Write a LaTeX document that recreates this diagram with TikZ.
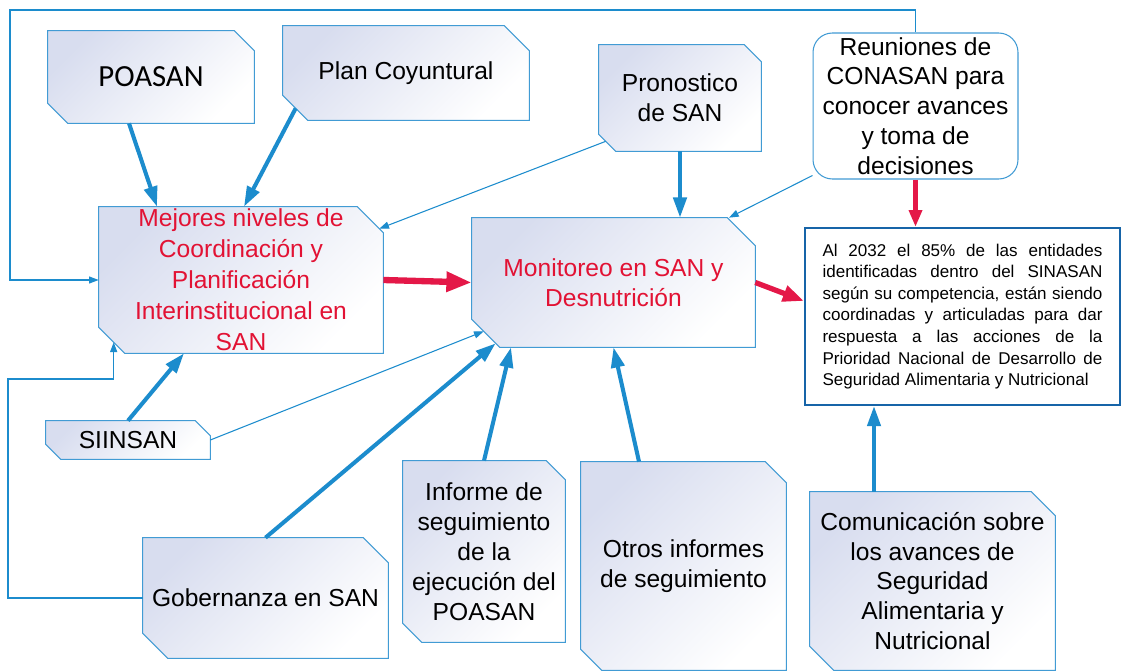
\documentclass[tikz,border=0pt]{standalone}
\usepackage{fontspec}
\setmainfont{Liberation Sans}
\newfontfamily\calibrifont{Carlito}
\usetikzlibrary{arrows.meta,calc,backgrounds}

\definecolor{boxline}{RGB}{65,155,212}
\definecolor{boxshade}{RGB}{216,221,239}
\definecolor{arrowblue}{RGB}{28,140,205}
\definecolor{arrowred}{RGB}{228,24,72}
\definecolor{textred}{RGB}{226,18,52}
\definecolor{metaline}{RGB}{22,100,168}

\tikzset{
  box/.style={rectangle, inner sep=0pt, align=center, font=\fontsize{14}{17}\selectfont},
  boxface/.style={draw=boxline, line width=0.6pt, top color=boxshade, bottom color=white, shading angle=45},
  roundbox/.style={rectangle, rounded corners=11pt, draw=boxline, line width=0.6pt, fill=white,
    inner sep=0pt, align=center, font=\fontsize{14}{17}\selectfont},
  bluearrow/.style={arrowblue, line width=2.3pt, -{Triangle[length=11.5pt,width=7.5pt]}},
  thinarrow/.style={arrowblue, line width=0.6pt, -{Triangle[length=5.5pt,width=4pt]}},
  redarrow/.style={arrowred, line width=#1, -{Triangle[length=0pt 4,width=0pt 3]}},
}

\begin{document}
\begin{tikzpicture}[x=0.02cm,y=-0.02cm]
  \useasboundingbox (0,0) rectangle (1122,672);

  % inputs on top
  \node[box, minimum width=4.12cm, minimum height=1.84cm,
    font=\calibrifont\fontsize{17.5}{20}\selectfont] (poasan) at (151,77) {POASAN};
  \node[box, minimum width=4.92cm, minimum height=1.88cm] (plan) at (406,73) {Plan Coyuntural};
  \node[box, minimum width=3.24cm, minimum height=2.12cm] (pronostico) at (680,98) {Pronostico\\de SAN};
  \node[roundbox, minimum width=4.10cm, minimum height=2.92cm] (reuniones) at (915.5,106)
    {Reuniones de\\CONASAN para\\conocer avances\\y toma de\\decisiones};

  % main boxes
  \node[box, minimum width=5.68cm, minimum height=2.92cm, text=textred,
    font=\fontsize{14}{17.6}\selectfont] (mejores) at (241,280)
    {Mejores niveles de\\Coordinación y\\Planificación\\Interinstitucional en\\SAN};
  \node[box, minimum width=5.66cm, minimum height=2.58cm, text=textred] (monitoreo) at (613.5,282.5)
    {Monitoreo en SAN y\\Desnutrición};
  \node[draw=metaline, line width=1.2pt, fill=white, inner sep=0pt, minimum width=6.3cm, minimum height=3.54cm,
    text width=5.6cm, align=justify, font=\fontsize{9.7}{12.3}\selectfont] (meta) at (962.5,316.5)
    {Al 2032 el 85\% de las entidades\linebreak identificadas dentro del SINASAN\linebreak según su competencia, están siendo\linebreak coordinadas y articuladas para dar\linebreak respuesta a las acciones de la\linebreak Prioridad Nacional de Desarrollo de\linebreak Seguridad Alimentaria y Nutricional};

  % inputs below
  \node[box, minimum width=3.28cm, minimum height=0.76cm] (siinsan) at (128,440) {SIINSAN};
  \node[box, minimum width=4.90cm, minimum height=2.40cm] (gobernanza) at (265.5,598) {Gobernanza en SAN};
  \node[box, minimum width=3.24cm, minimum height=3.62cm] (informe) at (484,551.5)
    {Informe de\\seguimiento\\de la\\ejecución del\\POASAN};
  \node[box, minimum width=4.10cm, minimum height=4.16cm] (otros) at (683.5,566)
    {Otros informes\\de seguimiento};
  \node[box, minimum width=4.90cm, minimum height=3.56cm] (comunicacion) at (932.5,581)
    {Comunicación sobre\\los avances de\\Seguridad\\Alimentaria y\\Nutricional};

  % cut-corner outlines behind the texts
  \begin{scope}[on background layer]
    \fill[white] (0,0) rectangle (1122,672);
    \foreach \name/\cut in {poasan/20, plan/25, pronostico/17, mejores/26, monitoreo/28,
        siinsan/15, gobernanza/25, informe/19, otros/21, comunicacion/24}
      \shade[boxface] (\name.north west) -- ($(\name.north east)+(-\cut,0)$)
        -- ($(\name.north east)+(0,\cut)$) -- (\name.south east)
        -- ($(\name.south west)+(\cut,0)$) -- ($(\name.south west)+(0,-\cut)$) -- cycle;
  \end{scope}

  % into the coordination box
  \draw[bluearrow] (poasan.south -| 129,0) -- (mejores.north -| 157,0);
  \draw[bluearrow] ($(plan.south west)+(13,-12)$) -- (mejores.north -| 244,0);
  \draw[bluearrow] (siinsan.north) -- (mejores.south -| 184,0);
  \draw[thinarrow] ($(pronostico.south west)+(7,-10)$) -- ($(mejores.north east)+(-4,22)$);
  \draw[thinarrow] (reuniones.north) |- (10,10) |- (mejores.west);
  \draw[thinarrow] (gobernanza.west) -| (8,379) -| ($(mejores.south west)+(15,-11)$);

  % into the monitoring box
  \draw[bluearrow] (pronostico.south) -- (pronostico.south |- monitoreo.north);
  \draw[thinarrow] (reuniones.214) -- (monitoreo.north -| 729,0);
  \draw[thinarrow] (siinsan.east) -- ($(monitoreo.south west)+(12,-16)$);
  \draw[bluearrow] (gobernanza.north) -- ($(monitoreo.south west)+(24,-4)$);
  \draw[bluearrow] (informe.north) -- (monitoreo.south -| 511,0);
  \draw[bluearrow] (otros.north -| 639,0) -- (monitoreo.south);
  \draw[redarrow=3.6pt] (mejores.east) -- (monitoreo.west);

  % into the goal
  \draw[redarrow=3pt] (monitoreo.east) -- (meta.west |- 0,301);
  \draw[redarrow=2.4pt] (reuniones.south) -- (reuniones.south |- meta.north);
  \draw[bluearrow] (comunicacion.north -| 874,0) -- (meta.south -| 874,0);
\end{tikzpicture}
\end{document}
